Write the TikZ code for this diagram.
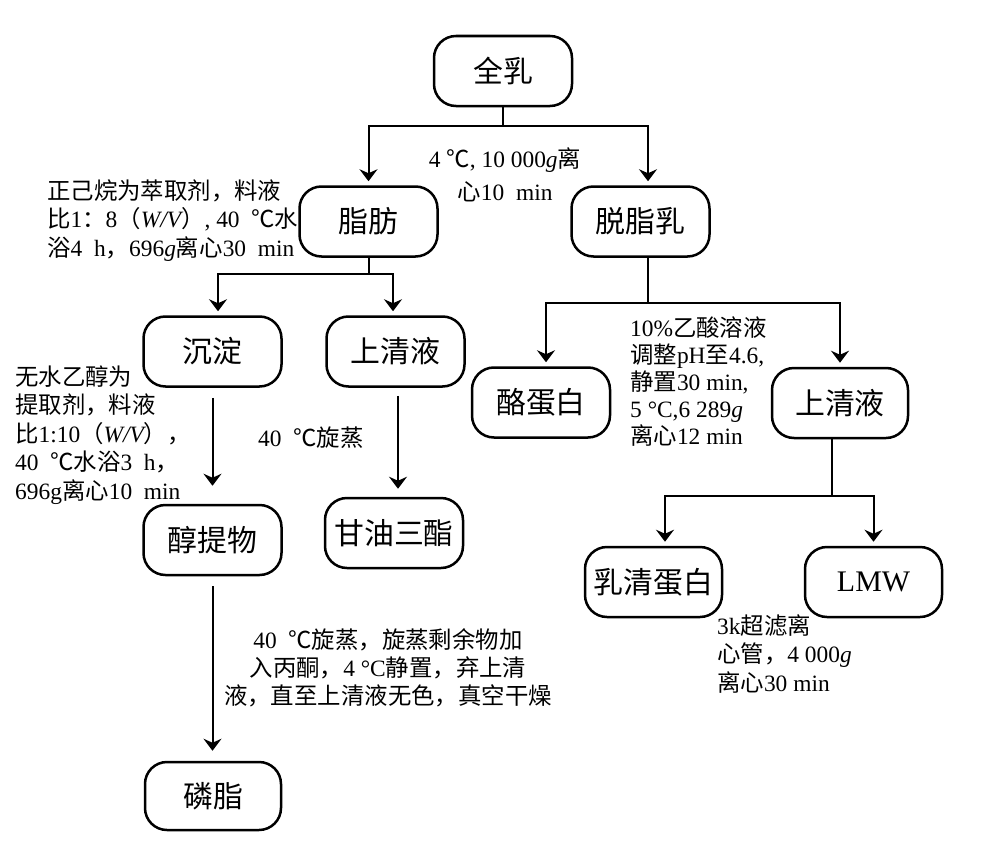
\documentclass[tikz,border=0pt]{standalone}
\usepackage{fontspec}
\setmainfont{Liberation Serif}
\newfontfamily\cjkfont{Noto Sans CJK SC}
\usetikzlibrary{arrows.meta}
\newXeTeXintercharclass\cjkcls
\makeatletter
\count@="4E00
\loop\XeTeXcharclass\count@=\cjkcls\advance\count@\@ne\ifnum\count@<"A000\repeat
\count@="3000
\loop\XeTeXcharclass\count@=\cjkcls\advance\count@\@ne\ifnum\count@<"3040\repeat
\count@="FF00
\loop\XeTeXcharclass\count@=\cjkcls\advance\count@\@ne\ifnum\count@<"FFF0\repeat
\XeTeXcharclass"2103=\cjkcls
\makeatother
\XeTeXinterchartoks 0 \cjkcls = {\cjkfont}
\XeTeXinterchartoks 4095 \cjkcls = {\cjkfont}
\XeTeXinterchartoks \cjkcls 0 = {\rmfamily}
\XeTeXinterchartoks \cjkcls 4095 = {\rmfamily}
\tikzset{
  box/.style={draw, line width=2.5bp, rounded corners=22bp, minimum width=138bp,
    minimum height=70bp, inner sep=0pt, font=\fontsize{30}{36}\selectfont},
  arr/.style={line width=2bp, -{Stealth[length=12bp,width=18bp,inset=4bp]}, shorten >=4bp},
  note/.style={inner sep=0pt, align=left, font=\fontsize{23.5}{28.5}\selectfont},
}
\begin{document}
\XeTeXinterchartokenstate=1
\begin{tikzpicture}[x=1bp,y=-1bp]
\fill[white] (0,0) rectangle (986,857);
\useasboundingbox (0,0) rectangle (986,857);
% boxes
\node[box] (quanru)   at (503,71)    {全乳};
\node[box] (zhifang)  at (368.5,221.5) {脂肪};
\node[box] (tuozhi)   at (640.5,221.5) {脱脂乳};
\node[box] (chendian) at (212.5,351.5) {沉淀};
\node[box] (qingL)    at (395.5,351.5) {上清液};
\node[box] (lao)      at (541,402.5) {酪蛋白};
\node[box, minimum width=136bp] (qingR) at (840,403) {上清液};
\node[box] (chunti)   at (212.5,540) {醇提物};
\node[box] (ganyou)   at (394,533)   {甘油三酯};
\node[box, minimum width=137bp] (ruqing) at (653.5,582) {乳清蛋白};
\node[box, minimum width=137bp] (lmw)    at (873.5,582) {LMW};
\node[box, minimum width=136bp, minimum height=68bp] (linzhi) at (213,796) {磷脂};
% connectors
\draw[arr] (quanru.south) -- ++(0,19) -| (zhifang.north);
\draw[arr] (quanru.south) -- ++(0,19) -| ([xshift=7.5bp]tuozhi.north);
\draw[arr] (zhifang.south) -- ++(0,16) -| ([xshift=5.5bp]chendian.north);
\draw[arr] (zhifang.south) -- ++(0,16) -| ([xshift=-2.5bp]qingL.north);
\draw[arr] ([xshift=7.5bp]tuozhi.south) -- ++(0,45) -| ([xshift=5bp]lao.north);
\draw[arr] ([xshift=7.5bp]tuozhi.south) -- ++(0,45) -| (qingR.north);
\draw[arr] ([xshift=-8bp]qingR.south) -- ++(0,57) -| ([xshift=11.5bp]ruqing.north);
\draw[arr] ([xshift=-8bp]qingR.south) -- ++(0,57) -| (lmw.north);
\draw[arr, shorten <=10bp, shorten >=18bp] (chendian.south) -- (chendian.south |- chunti.north);
\draw[arr, shorten <=8bp, shorten >=8bp] ([xshift=2.5bp]qingL.south) -- ([xshift=2.5bp]qingL.south |- ganyou.north);
\draw[arr, shorten <=10bp, shorten >=10bp] (chunti.south) -- (chunti.south |- linzhi.north);
% notes (anchor = baseline of the last line)
\node[note, align=center, anchor=base, font=\fontsize{23.5}{33}\selectfont] (n1) at (505,200)
  {4 ℃, 10 000{\itshape g}离\\心10\enspace min};
\node[note, anchor=base west] (n2) at (47,256)
  {正己烷为萃取剂，料液\\比1：8（{\itshape W/V}）, 40\enspace ℃水\\浴4\enspace h，696{\itshape g}离心30\enspace min};
\node[note, anchor=base west] (n3) at (15,499)
  {无水乙醇为\\提取剂，料液\\比1:10（{\itshape W/V}），\\40\enspace ℃水浴3\enspace h，\\696g离心10\enspace min};
\node[note, anchor=base west, font=\fontsize{23.5}{27}\selectfont] (n4) at (630,444)
  {10\%乙酸溶液\\调整pH至4.6,\\静置30 min,\\5 °C,6 289{\itshape g}\\离心12 min};
\node[note, anchor=base west] (n5) at (258,446) {40\enspace ℃旋蒸};
\node[note, align=center, anchor=base, font=\fontsize{23.5}{28}\selectfont] (n6) at (388,704)
  {40\enspace ℃旋蒸，旋蒸剩余物加\\入丙酮，4 °C静置，弃上清\\液，直至上清液无色，真空干燥};
\node[note, anchor=base west] (n7) at (717,691)
  {3k超滤离\\心管，4 000{\itshape g}\\离心30 min};
\end{tikzpicture}
\end{document}
